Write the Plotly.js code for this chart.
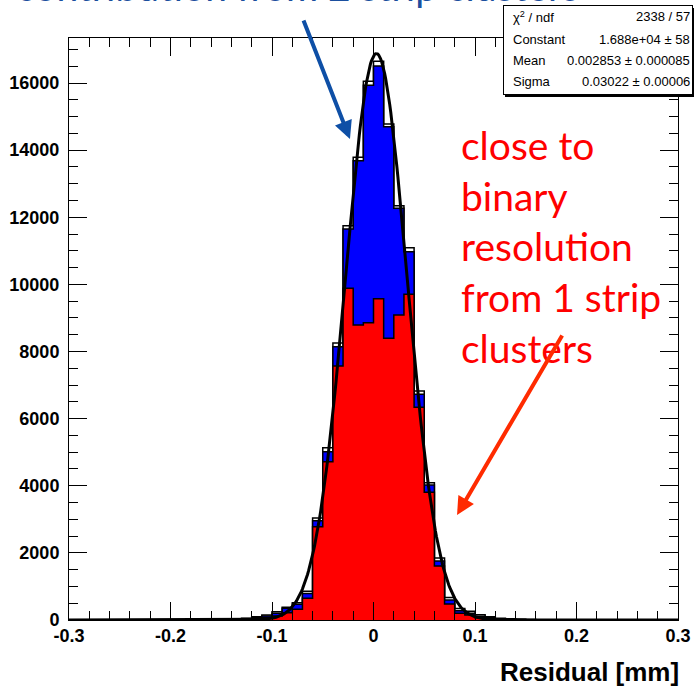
<!DOCTYPE html>
<html>
<head>
<meta charset="utf-8">
<script src="https://cdn.plot.ly/plotly-3.0.1.min.js"></script>
<style>html,body{margin:0;padding:0;background:#fff;}#chart{width:695px;height:686px;}</style>
</head>
<body>
<div id="chart"></div>
<script>
// ---- Data ----
const binStart = -0.3;
const binWidth = 0.01;
// 60 bins from -0.3 to 0.3: all clusters (white), 1+2 strip (blue), 1 strip (red)
const totalCounts = [
  0,0,0,0,0,0,0,0,0,1, 2,3,5,8,12,20,35,55,95,150,
  248,377,516,860,3040,5134,8254,11748,13786,16050,
  16650,14778,12340,11094,6823,4092,1850,670,340,260,
  160,95,55,35,20,12,8,5,3,2, 1,1,0,0,0,0,0,0,0,0
];
const blueCounts = [
  0,0,0,0,0,0,0,0,0,0, 1,2,3,5,8,14,25,40,75,120,
  199,348,467,790,2960,5015,8144,11650,13686,15930,
  16506,14700,12266,10974,6724,4022,1758,596,275,200,
  115,65,38,22,13,8,5,3,2,1, 0,0,0,0,0,0,0,0,0,0
];
const redCounts = [
  0,0,0,0,0,0,0,0,0,0, 0,1,2,3,4,7,12,20,38,70,
  119,219,318,646,2780,4717,7568,9883,8789,8858,
  9574,8393,9087,9704,6337,3805,1609,477,199,149,
  70,40,20,12,7,4,3,2,1,0, 0,0,0,0,0,0,0,0,0,0
];
// Gaussian fit parameters (from the stats box)
const fitConstant = 1.688e4;
const fitMean = 0.002853;
const fitSigma = 0.03022;
const statLabels = ["\u03c7<sup>2</sup> / ndf", "Constant", "Mean", "Sigma"];
const statValues = ["2338 / 57", "1.688e+04 \u00b1 58", "0.002853 \u00b1 0.000085", "0.03022 \u00b1 0.00006"];
const xTickVals = [-0.3, -0.2, -0.1, 0, 0.1, 0.2, 0.3];
const xTickText = ["-0.3", "-0.2", "-0.1", "0", "0.1", "0.2", "0.3"];
const yTickVals = [0, 2000, 4000, 6000, 8000, 10000, 12000, 14000, 16000];
const yTickText = ["0", "2000", "4000", "6000", "8000", "10000", "12000", "14000", "16000"];
const xTitle = "Residual [mm]";
const blueNote = "contribution from 2 strip clusters";
const redNote = "close to<br>binary<br>resolution<br>from 1 strip<br>clusters";

// ---- Build traces ----
const edges = [];
for (let i = 0; i <= totalCounts.length; i++) edges.push(+(binStart + i * binWidth).toFixed(4));
function stepY(c) { return c.concat([c[c.length - 1]]); }
function stepTrace(counts, fill) {
  return {
    type: 'scatter', mode: 'lines', x: edges, y: stepY(counts),
    line: { shape: 'hv', color: '#000', width: 1.5 },
    fill: 'tozeroy', fillcolor: fill, hoverinfo: 'skip', showlegend: false
  };
}
const fx = [], fy = [];
for (let i = 0; i <= 600; i++) {
  const x = binStart + i * 0.001;
  fx.push(x);
  fy.push(fitConstant * Math.exp(-0.5 * Math.pow((x - fitMean) / fitSigma, 2)));
}
const traces = [
  stepTrace(totalCounts, '#ffffff'),
  stepTrace(blueCounts, '#0000ff'),
  stepTrace(redCounts, '#ff0000'),
  { type: 'scatter', mode: 'lines', x: fx, y: fy, line: { color: '#000', width: 3 }, hoverinfo: 'skip', showlegend: false }
];

// ---- Layout helpers (pixel -> paper) ----
const L = 69, R = 678, T = 38, B = 620;
const px = v => (v - L) / (R - L);
const py = v => (B - v) / (B - T);

const tickFont = { family: 'Liberation Sans, Arial, sans-serif', size: 18, color: '#000', weight: 'bold' };
const statFont = { family: 'Liberation Sans, Arial, sans-serif', size: 13, color: '#000' };

const annotations = [];
// blue note (mostly cut off at the top)
annotations.push({ xref: 'paper', yref: 'paper', x: px(14), y: py(11.5), xanchor: 'left', yanchor: 'bottom',
  text: blueNote, showarrow: false, font: { family: 'Lato, Open Sans, sans-serif', size: 39, color: '#1b4f9e' } });
// blue arrow
annotations.push({ xref: 'x', yref: 'y', x: -0.0232, y: 14331, ax: -47, ay: -120, text: '', showarrow: true,
  arrowhead: 2, arrowsize: 0.9, arrowwidth: 4, arrowcolor: '#0e4fa6' });
// red note
annotations.push({ xref: 'paper', yref: 'paper', x: px(459), y: py(247), xanchor: 'left', yanchor: 'middle', align: 'left',
  text: redNote, showarrow: false, font: { family: 'Lato, Open Sans, sans-serif', size: 39, color: '#ff0000' } });
// red arrow
annotations.push({ xref: 'x', yref: 'y', x: 0.0823, y: 3128, ax: 106, ay: -181, text: '', showarrow: true,
  arrowhead: 2, arrowsize: 0.9, arrowwidth: 4, arrowcolor: '#ff2b00' });
// stats box shadow + box
annotations.push({ xref: 'paper', yref: 'paper', x: px(599.5), y: py(52.3), xanchor: 'center', yanchor: 'middle',
  text: ' ', showarrow: false, width: 189, height: 89, bgcolor: '#000', borderwidth: 0, borderpad: 0 });
annotations.push({ xref: 'paper', yref: 'paper', x: px(597.5), y: py(50.3), xanchor: 'center', yanchor: 'middle',
  text: ' ', showarrow: false, width: 188, height: 88, bgcolor: '#fff', bordercolor: '#000', borderwidth: 1, borderpad: 0 });
const rowY = [17, 40, 61, 82];
for (let i = 0; i < statLabels.length; i++) {
  annotations.push({ xref: 'paper', yref: 'paper', x: px(512), y: py(rowY[i]), xanchor: 'left', yanchor: 'middle',
    text: statLabels[i], showarrow: false, font: statFont, borderpad: 0 });
  annotations.push({ xref: 'paper', yref: 'paper', x: px(691), y: py(rowY[i]), xanchor: 'right', yanchor: 'middle',
    text: statValues[i], showarrow: false, font: statFont, borderpad: 0 });
}
// x-axis title, right aligned
annotations.push({ xref: 'paper', yref: 'paper', x: px(681), y: py(672), xanchor: 'right', yanchor: 'middle',
  text: xTitle, showarrow: false, font: { family: 'Liberation Sans, Arial, sans-serif', size: 26, color: '#000', weight: 'bold' } });

const layout = {
  width: 695, height: 686,
  margin: { l: L, r: 695 - R, t: T, b: 686 - B, pad: 0 },
  paper_bgcolor: '#fff', plot_bgcolor: '#fff',
  showlegend: false,
  xaxis: {
    range: [-0.3, 0.3], tickmode: 'array', tickvals: xTickVals, ticktext: xTickText,
    ticks: 'inside', ticklen: 18, tickwidth: 1, tickcolor: '#000',
    minor: { tickmode: 'linear', tick0: -0.3, dtick: 0.02, ticks: 'inside', ticklen: 9, tickwidth: 1, tickcolor: '#000' },
    showline: true, linecolor: '#000', linewidth: 1, mirror: 'ticks',
    showgrid: false, zeroline: false, tickfont: tickFont, ticklabelstandoff: -1
  },
  yaxis: {
    range: [0, 17341], tickmode: 'array', tickvals: yTickVals, ticktext: yTickText,
    ticks: 'inside', ticklen: 18, tickwidth: 1, tickcolor: '#000',
    minor: { tickmode: 'linear', tick0: 0, dtick: 500, ticks: 'inside', ticklen: 9, tickwidth: 1, tickcolor: '#000' },
    showline: true, linecolor: '#000', linewidth: 1, mirror: 'ticks',
    showgrid: false, zeroline: false, tickfont: tickFont, ticklabelstandoff: 5
  },
  annotations: annotations
};

Plotly.newPlot('chart', traces, layout, { staticPlot: true, displayModeBar: false });
</script>
</body>
</html>
